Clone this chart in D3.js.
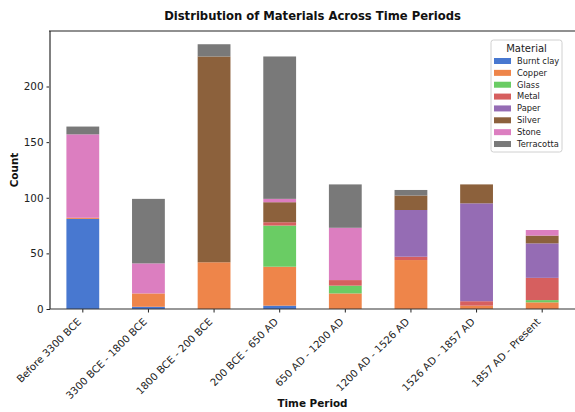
<!DOCTYPE html>
<html>
<head>
<meta charset="utf-8">
<script src="https://cdn.jsdelivr.net/npm/d3@7"></script>
<style>
html,body{margin:0;padding:0;background:#fff;}
svg{display:block;font-family:"DejaVu Sans",sans-serif;}
</style>
</head>
<body>
<svg id="chart" width="575" height="412"></svg>
<script>
const periods = ["Before 3300 BCE","3300 BCE - 1800 BCE","1800 BCE - 200 BCE","200 BCE - 650 AD","650 AD - 1200 AD","1200 AD - 1526 AD","1526 AD - 1857 AD","1857 AD - Present"];
const materials = ["Burnt clay","Copper","Glass","Metal","Paper","Silver","Stone","Terracotta"];
const colors = ["#4878d0","#ee854a","#6acc64","#d65f5f","#956cb4","#8c613c","#dc7ec0","#797979"];
const burntClay  = [81, 2, 0, 3, 0, 0, 0, 0];
const copper     = [1, 12, 42, 35, 14, 44, 3, 6];
const glass      = [0, 0, 0, 37, 7, 0, 0, 2];
const metal      = [0, 0, 0, 3, 5, 3, 4, 20];
const paper      = [0, 0, 0, 0, 0, 42, 88, 31];
const silver     = [0, 0, 185, 18, 0, 13, 17, 7];
const stone      = [75, 27, 0, 3, 47, 0, 0, 5];
const terracotta = [7, 58, 11, 128, 39, 5, 0, 0];
const yTicks = [0, 50, 100, 150, 200];

const series = [burntClay, copper, glass, metal, paper, silver, stone, terracotta];
const rows = periods.map((p, i) => {
  const r = {period: p};
  materials.forEach((m, j) => r[m] = series[j][i]);
  return r;
});

const svg = d3.select("#chart");
const M = {left: 50, right: 575, top: 31, bottom: 309};
const cx = (M.left + M.right) / 2;

const x = d3.scaleBand().domain(periods).range([M.left, M.right]).paddingInner(0.5).paddingOuter(0.25);
const totals = rows.map(r => d3.sum(materials, m => r[m]));
const y = d3.scaleLinear().domain([0, d3.max(totals) * 1.05]).range([M.bottom, M.top]);

const stack = d3.stack().keys(materials)(rows);
const color = d3.scaleOrdinal().domain(materials).range(colors);

svg.append("g").selectAll("g").data(stack).join("g")
  .attr("fill", d => color(d.key))
  .selectAll("rect").data(d => d).join("rect")
  .attr("x", d => x(d.data.period))
  .attr("width", x.bandwidth())
  .attr("y", d => y(d[1]))
  .attr("height", d => y(d[0]) - y(d[1]));

// Axes
const yAxis = svg.append("g").attr("transform", `translate(${M.left},0)`)
  .call(d3.axisLeft(y).tickValues(yTicks).tickSize(3.5).tickPadding(3));
yAxis.select(".domain").remove();
yAxis.selectAll("text").attr("font-size", 10.4).attr("fill", "#222").attr("font-family", "DejaVu Sans");
yAxis.selectAll("line").attr("stroke", "#222");

const xAxis = svg.append("g").attr("transform", `translate(0,${M.bottom})`)
  .call(d3.axisBottom(x).tickSize(3.5).tickPadding(2));
xAxis.select(".domain").remove();
xAxis.selectAll("line").attr("stroke", "#222");
xAxis.selectAll("text")
  .attr("font-size", 10.2).attr("fill", "#222").attr("font-family", "DejaVu Sans")
  .attr("text-anchor", "end")
  .attr("x", 0).attr("y", 0).attr("dy", 0)
  .attr("transform", "translate(-1,13.5) rotate(-45)");

// spines
svg.append("line").attr("x1", M.left).attr("x2", M.left).attr("y1", M.top).attr("y2", M.bottom)
  .attr("stroke", "#808080").attr("stroke-width", 2);
svg.append("line").attr("x1", M.left - 1).attr("x2", M.right).attr("y1", M.top).attr("y2", M.top)
  .attr("stroke", "#222").attr("stroke-width", 1.2);
svg.append("line").attr("x1", M.left).attr("x2", M.right).attr("y1", M.bottom).attr("y2", M.bottom)
  .attr("stroke", "#333").attr("stroke-width", 1.2);

// Title and labels
svg.append("text").attr("x", cx).attr("y", 20).attr("text-anchor", "middle")
  .attr("font-size", 11.6).attr("font-weight", "bold").attr("fill", "#111")
  .text("Distribution of Materials Across Time Periods");
svg.append("text").attr("x", cx).attr("y", 407).attr("text-anchor", "middle")
  .attr("font-size", 10.4).attr("font-weight", "bold").attr("fill", "#111")
  .text("Time Period");
svg.append("text").attr("transform", `translate(18,${(M.top + M.bottom) / 2}) rotate(-90)`)
  .attr("text-anchor", "middle")
  .attr("font-size", 10.4).attr("font-weight", "bold").attr("fill", "#111")
  .text("Count");

// Legend
const lg = svg.append("g").attr("transform", "translate(491,40)");
lg.append("rect").attr("width", 71).attr("height", 112).attr("rx", 2.5)
  .attr("fill", "#fff").attr("fill-opacity", 0.85).attr("stroke", "#d0d0d0").attr("stroke-width", 1);
lg.append("text").attr("x", 35.5).attr("y", 12).attr("text-anchor", "middle")
  .attr("font-size", 10).attr("fill", "#222").text("Material");
materials.forEach((m, i) => {
  const cy = 21 + i * 11.86;
  lg.append("rect").attr("x", 3).attr("y", cy - 3).attr("width", 17).attr("height", 6).attr("fill", color(m));
  lg.append("text").attr("x", 26).attr("y", cy).attr("dy", "0.35em")
    .attr("font-size", 8.3).attr("fill", "#222").text(m);
});
</script>
</body>
</html>
